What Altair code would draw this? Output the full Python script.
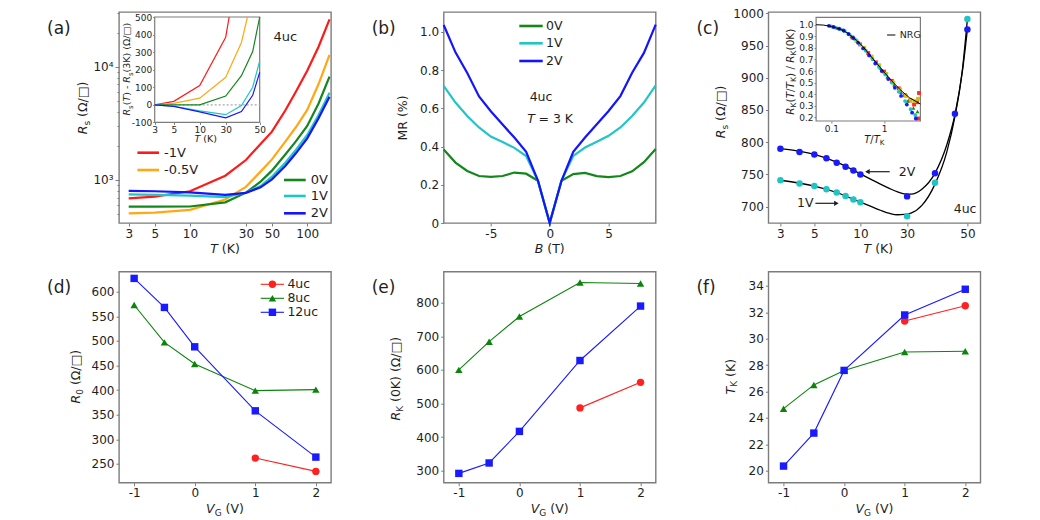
import altair as alt
import pandas as pd

FONT = "DejaVu Sans"
W, H = 212, 211
INK = "#1e1e1e"
FRAME = "#7c7c7c"
ONE = pd.DataFrame({"k": [0]})

# ---------------- (a) sheet resistance of the 4uc film ----------------
a_gates = ["-1V", "-0.5V", "0V", "1V", "2V"]
a_colors = ["#ff1a1a", "#ffa814", "#14871c", "#22c5c5", "#1414ff"]
a_T = [3, 5, 10, 20, 30, 40, 50, 65, 80, 100, 125, 155]
a_Rs_m1 = [689, 712, 795, 1090, 1500, 2080, 2670, 4100, 6010, 9200, 15000, 26200]
a_Rs_m05 = [508, 515, 544, 672, 870, 1185, 1520, 2180, 2920, 4150, 7030, 12700]
a_Rs_0 = [582, 582, 583, 635, 773, 967, 1209, 1680, 2190, 2995, 4740, 8170]
a_Rs_1 = [745, 738, 726, 705, 775, 885, 1070, 1420, 1840, 2494, 3750, 5900]
a_Rs_2 = [800, 795, 776, 738, 770, 861, 1014, 1330, 1720, 2332, 3500, 5430]

# (a) inset: Rs(T) - Rs(3K)
ai_T_m1 = [3, 5, 10, 30, 31.6]
ai_dR_m1 = [0, 20, 110, 385, 500]
ai_T_m05 = [3, 5, 10, 30, 38, 41.6]
ai_dR_m05 = [0, 8, 38, 157, 355, 500]
ai_T = [3, 5, 10, 30, 38, 45, 50]
ai_dR_0 = [0, 0, 0, 50, 166, 303, 500]
ai_dR_1 = [0, -8, -34, -56, -4, 100, 250]
ai_dR_2 = [0, -9, -40, -74, -38, 54, 185]

# ---------------- (b) magnetoresistance at 3 K ----------------
b_gates = ["0V", "1V", "2V"]
b_colors = ["#14871c", "#22c5c5", "#1414ff"]
b_B = [-9, -8, -7, -6, -5, -4, -3, -2, -1, 0, 1, 2, 3, 4, 5, 6, 7, 8, 9]
b_MR_0 = [0.385, 0.316, 0.272, 0.246, 0.241, 0.246, 0.264, 0.258, 0.221, 0.0,
          0.221, 0.256, 0.262, 0.245, 0.240, 0.246, 0.270, 0.318, 0.387]
b_MR_1 = [0.718, 0.630, 0.560, 0.500, 0.452, 0.424, 0.393, 0.350, 0.221, 0.0,
          0.222, 0.351, 0.395, 0.425, 0.456, 0.500, 0.560, 0.630, 0.720]
b_MR_2 = [1.036, 0.893, 0.785, 0.662, 0.585, 0.515, 0.447, 0.372, 0.222, 0.0,
          0.221, 0.372, 0.447, 0.517, 0.586, 0.664, 0.786, 0.890, 1.038]

# ---------------- (c) Kondo fits ----------------
c_T_2V = [3, 4, 5, 6, 7, 8, 9, 10, 30, 38, 45, 50]
c_Rs_2V = [790, 785, 781, 775, 768, 762, 756, 750, 716, 752, 844, 975]
c_T_1V = [3, 4, 5, 6, 7, 8, 9, 10, 30, 38, 50]
c_Rs_1V = [741, 736, 732, 727, 722, 716.5, 711, 707, 685, 737, 991]
c_fit_T = [3, 5, 7, 10, 13, 16, 20, 24, 28, 31, 34, 38, 42, 45, 48, 50]
c_fit_2V = [790, 781, 769, 751, 742, 735, 728, 723, 720, 719.5, 727, 752, 796, 843, 912, 975]
c_fit_1V = [741, 732, 722, 707, 700, 694.5, 689.5, 687.5, 688, 690, 702, 735, 785, 840, 915, 991]

# (c) inset: normalised Kondo resistance
nrg_x = [0.0513, 0.07, 0.1, 0.15, 0.2, 0.3, 0.4, 0.5, 0.7, 1.0, 1.5, 2.0, 3.0, 4.885]
nrg_y = [1.0, 0.997, 0.985, 0.96, 0.93, 0.865, 0.81, 0.755, 0.675, 0.59, 0.5, 0.44, 0.37, 0.315]
sc_names = ["r", "y", "g", "c", "b"]
sc_colors = ["#ff2a2a", "#d4c200", "#129012", "#20c4c4", "#1a1aff"]
sc_shapes = ["square", "square", "triangle-up", "circle", "circle"]
sc_r_x = [0.25, 0.35, 0.5, 0.7, 1.0, 1.4, 1.9, 2.5, 3.1, 3.7, 4.2, 4.6, 4.4]
sc_r_y = [0.89, 0.83, 0.755, 0.675, 0.595, 0.515, 0.45, 0.39, 0.345, 0.31, 0.33, 0.41, 0.19]
sc_y_x = [0.3, 0.42, 0.58, 0.8, 1.1, 1.5, 2.0, 2.6, 3.2, 3.8, 4.4]
sc_y_y = [0.86, 0.8, 0.725, 0.65, 0.575, 0.5, 0.44, 0.385, 0.35, 0.34, 0.36]
sc_g_x = [0.13, 0.18, 0.24, 0.33, 0.45, 0.62, 0.85, 1.15, 1.55, 2.1, 2.8, 3.6, 4.3]
sc_g_y = [0.97, 0.945, 0.9, 0.845, 0.78, 0.7, 0.625, 0.55, 0.48, 0.415, 0.34, 0.28, 0.25]
sc_c_x = [0.1, 0.12, 0.15, 0.18, 0.22, 0.28, 0.35, 0.45, 0.6, 0.8, 1.05, 1.4, 1.9, 2.5, 3.2, 3.9]
sc_c_y = [0.985, 0.975, 0.96, 0.945, 0.915, 0.875, 0.83, 0.775, 0.705, 0.635, 0.57, 0.5, 0.42, 0.34, 0.27, 0.22]
sc_b_x = [0.09, 0.11, 0.14, 0.17, 0.21, 0.26, 0.32, 0.4, 0.52, 0.68, 0.9, 1.2, 1.6, 2.1, 2.7, 3.4, 4.0]
sc_b_y = [0.99, 0.98, 0.965, 0.95, 0.92, 0.885, 0.845, 0.795, 0.735, 0.665, 0.6, 0.53, 0.455, 0.385, 0.31, 0.24, 0.19]

# ---------------- (d)-(f) gate dependence of fit parameters ----------------
films = ["4uc", "8uc", "12uc"]
film_colors = ["#ff2020", "#0c840c", "#1a1aff"]
film_shapes = ["circle", "triangle-up", "square"]
VG = [-1, -0.5, 0, 1, 2]
VG_4uc = [1, 2]
R0_12uc = [627, 568, 488, 358, 264]
R0_8uc = [573, 497, 453, 399, 401]
R0_4uc = [262, 235]
RK_12uc = [292, 323, 417, 628, 790]
RK_8uc = [600, 684, 759, 860, 857]
RK_4uc = [487, 563]
TK_12uc = [20.35, 22.85, 27.6, 31.8, 33.75]
TK_8uc = [24.7, 26.5, 27.6, 29.0, 29.05]
TK_4uc = [31.35, 32.5]


def long_frame(xname, yname, key, blocks):
    rows = []
    for name, xs, ys in blocks:
        for x, y in zip(xs, ys):
            rows.append({xname: x, yname: y, key: name})
    return pd.DataFrame(rows)


# ---------------- text helpers ----------------
EM = {" ": 0.318, "(": 0.39, ")": 0.39, "/": 0.337, "-": 0.361, "=": 0.838, "%": 0.95,
      "Ω": 0.77, "□": 0.77, "B": 0.686, "G": 0.775, "K": 0.656, "M": 0.863, "R": 0.695,
      "T": 0.611, "V": 0.684, "s": 0.521, "u": 0.634, "c": 0.55}


def tw(s, size):
    return sum(EM.get(ch, 0.636) for ch in s) * size


def rich(segs, cx, cy, size=12.5, vertical=False):
    """Centered text built from pieces: kind 'n' normal, 'i' italic, 's' subscript, 'g' gap."""
    parts = []
    for text, kind in segs:
        fs = size * 0.72 if kind == "s" else size
        parts.append((text, kind, fs, tw(text, fs)))
    total = sum(p[3] for p in parts)
    pos = -total / 2
    layers = []
    for text, kind, fs, w in parts:
        if kind != "g":
            drop = 0.36 * size + (0.22 * size if kind == "s" else 0)
            if vertical:
                x, y, ang = cx + drop, cy - pos, 270
            else:
                x, y, ang = cx + pos, cy + drop, 0
            layers.append(
                alt.Chart(ONE).mark_text(
                    text=text, font=FONT, fontSize=fs, align="left", baseline="alphabetic",
                    fontStyle="italic" if kind == "i" else "normal", angle=ang, color=INK,
                ).encode(x=alt.value(x), y=alt.value(y))
            )
        pos += w
    return layers


def label(s, x, y, size=13, align="left", baseline="middle", style="normal", color=INK):
    return alt.Chart(ONE).mark_text(
        text=s, font=FONT, fontSize=size, align=align, baseline=baseline,
        fontStyle=style, color=color,
    ).encode(x=alt.value(x), y=alt.value(y))


def seg_line(x1, x2, y, color, width=2.2):
    return alt.Chart(ONE).mark_rule(color=color, strokeWidth=width).encode(
        x=alt.value(x1), x2=alt.value(x2), y=alt.value(y))


def marker(x, y, shape, color, size):
    return alt.Chart(ONE).mark_point(
        shape=shape, filled=True, opacity=1, size=size, color=color,
    ).encode(x=alt.value(x), y=alt.value(y))


def box(sx, sy, x0, x1, y0, y1):
    return alt.Chart(ONE).mark_rect(fill="white", stroke=FRAME, strokeWidth=1.2).encode(
        x=alt.XDatum(x0, type="quantitative", scale=sx, axis=None), x2=alt.X2Datum(x1),
        y=alt.YDatum(y0, type="quantitative", scale=sy, axis=None), y2=alt.Y2Datum(y1))


def panel_tag(s):
    return label(s, -72, 16.5, size=17)


def axis(values, **kw):
    return alt.Axis(values=values, title=None, labelOverlap=False, labelFlush=False, **kw)


INSET_AX = dict(labelFontSize=9, tickSize=2, labelPadding=1)

# ================= panel (a) =================
df_a = long_frame("T", "Rs", "gate", [
    ("-1V", a_T, a_Rs_m1), ("-0.5V", a_T, a_Rs_m05), ("0V", a_T, a_Rs_0),
    ("1V", a_T, a_Rs_1), ("2V", a_T, a_Rs_2)])
df_ai = long_frame("T", "dR", "gate", [
    ("-1V", ai_T_m1, ai_dR_m1), ("-0.5V", ai_T_m05, ai_dR_m05), ("0V", ai_T, ai_dR_0),
    ("1V", ai_T, ai_dR_1), ("2V", ai_T, ai_dR_2)])
gate_color = alt.Scale(domain=a_gates, range=a_colors)

sx_a = alt.Scale(type="log", domain=[2.48, 159.6], nice=False)
sy_a = alt.Scale(type="log", domain=[417, 30400], nice=False)
a_ticks_y = [500, 600, 700, 800, 900, 1000, 2000, 3000, 4000, 5000, 6000, 7000, 8000,
             9000, 10000, 20000, 30000]
a_main = alt.Chart(df_a).mark_line(strokeWidth=2.2, clip=True).encode(
    x=alt.X("T:Q", scale=sx_a, axis=axis([3, 5, 10, 30, 50, 100], format="d")),
    y=alt.Y("Rs:Q", scale=sy_a, axis=axis(
        a_ticks_y,
        labelExpr="datum.value == 1000 ? '10³' : datum.value == 10000 ? '10⁴' : ''",
        tickSize={"condition": {"test": "datum.value == 1000 || datum.value == 10000", "value": 4},
                  "value": 2})),
    color=alt.Color("gate:N", scale=gate_color, legend=None),
)

sx_ai = alt.Scale(type="log", domain=[3, 10, 30, 50], range=[35.7, 80.7, 106.7, 140.7], nice=False)
sy_ai = alt.Scale(domain=[-100, 500], range=[110.4, 5.0], nice=False, zero=False)
ai_zero = alt.Chart(ONE).mark_rule(color="#a8a8a8", strokeDash=[2, 2], strokeWidth=1.2).encode(
    x=alt.XDatum(3, type="quantitative", scale=sx_ai, axis=None), x2=alt.X2Datum(50),
    y=alt.YDatum(0, type="quantitative", scale=sy_ai, axis=None))
ai_lines = alt.Chart(df_ai).mark_line(strokeWidth=1.2).encode(
    x=alt.X("T:Q", scale=sx_ai, axis=axis([3, 5, 10, 30, 50], orient="bottom", offset=-(H - 110.4),
                                          format="d", **INSET_AX)),
    y=alt.Y("dR:Q", scale=sy_ai, axis=axis([-100, 0, 100, 200, 300, 400, 500], orient="left",
                                           offset=-35.7, labelExpr="datum.value + ''", **INSET_AX)),
    color=alt.Color("gate:N", scale=gate_color, legend=None),
)

a_layers = [a_main, box(sx_ai, sy_ai, 3, 50, -100, 500), ai_zero, ai_lines]
a_leg_pos = [(18.4, 40, 45, 140.7), (18.4, 40, 45, 158),
             (165, 186.7, 191.7, 168), (165, 186.7, 191.7, 184), (165, 186.7, 191.7, 201.3)]
for g, c, (x1, x2, xt, y) in zip(a_gates, a_colors, a_leg_pos):
    a_layers += [seg_line(x1, x2, y, c, 2.6), label(g, xt, y)]
a_layers.append(label("4uc", 166.4, 24.7, align="center"))
a_layers += rich([("T", "i"), (" ", "g"), ("(K)", "n")], 106, 236)
a_layers += rich([("R", "i"), ("s", "s"), (" ", "g"), ("(Ω/□)", "n")], -36.6, 97, vertical=True)
a_layers += rich([("T", "i"), (" ", "g"), ("(K)", "n")], 86.7, 127, size=9.5)
a_layers += rich([("R", "i"), ("s", "s"), ("(", "n"), ("T", "i"), (")", "n"), (" ", "g"),
                  ("-", "n"), (" ", "g"), ("R", "i"), ("s", "s"), ("(3K)", "n"), (" ", "g"),
                  ("(Ω/□)", "n")], 8.0, 58, size=9.5, vertical=True)
a_layers.append(panel_tag("(a)"))
panel_a = alt.layer(*a_layers).resolve_scale(x="independent", y="independent").properties(width=W, height=H)

# ================= panel (b) =================
df_b = long_frame("B", "MR", "gate", [("0V", b_B, b_MR_0), ("1V", b_B, b_MR_1), ("2V", b_B, b_MR_2)])
b_lines = alt.Chart(df_b).mark_line(strokeWidth=2.2).encode(
    x=alt.X("B:Q", scale=alt.Scale(domain=[-9, 9], nice=False, zero=False),
            axis=axis([-5, 0, 5], labelExpr="datum.value + ''")),
    y=alt.Y("MR:Q", scale=alt.Scale(domain=[0, 1.104], nice=False),
            axis=axis([0, 0.2, 0.4, 0.6, 0.8, 1.0],
                      labelExpr="datum.value == 0 ? '0' : format(datum.value, '.1f')")),
    color=alt.Color("gate:N", scale=alt.Scale(domain=b_gates, range=b_colors), legend=None),
)
b_layers = [b_lines]
for g, c, y in zip(b_gates, b_colors, [14, 31.3, 49]):
    b_layers += [seg_line(75.6, 99, y, c, 2.6), label(g, 102.3, y, size=12.5)]
b_layers.append(label("4uc", 97.3, 84.7, size=12.5, align="center"))
b_layers += [label("T", 83.6, 107.3, size=12.5, style="italic"), label("= 3 K", 94.8, 107.3, size=12.5)]
b_layers += rich([("B", "i"), (" ", "g"), ("(T)", "n")], 106, 236)
b_layers += rich([("MR (%)", "n")], -41, 106, vertical=True)
b_layers.append(panel_tag("(b)"))
panel_b = alt.layer(*b_layers).properties(width=W, height=H)

# ================= panel (c) =================
df_c = long_frame("T", "Rs", "gate", [("1V", c_T_1V, c_Rs_1V), ("2V", c_T_2V, c_Rs_2V)])
df_cfit = long_frame("T", "Rs", "gate", [("1V", c_fit_T, c_fit_1V), ("2V", c_fit_T, c_fit_2V)])
sx_c = alt.Scale(type="log", domain=[3, 10, 30, 50], range=[12, 92, 138.7, 199], nice=False)
sy_c = alt.Scale(domain=[674.7, 1002], nice=False, zero=False)
c_fit = alt.Chart(df_cfit).mark_line(strokeWidth=1.3, color="black", interpolate="monotone").encode(
    x=alt.X("T:Q", scale=sx_c, axis=axis([3, 5, 10, 30, 50], format="d")),
    y=alt.Y("Rs:Q", scale=sy_c, axis=axis([700, 750, 800, 850, 900, 950, 1000], format="d")),
    detail="gate:N",
)
c_pts = alt.Chart(df_c).mark_circle(size=42, opacity=1).encode(
    x=alt.X("T:Q", scale=sx_c, axis=None),
    y=alt.Y("Rs:Q", scale=sy_c, axis=None),
    color=alt.Color("gate:N", scale=alt.Scale(domain=["1V", "2V"], range=["#20c4c4", "#1a1aff"]),
                    legend=None),
)

sx_ci = alt.Scale(type="log", domain=[0.0513, 4.885], range=[47.7, 152], nice=False)
sy_ci = alt.Scale(domain=[0.168, 1.064], range=[109, 5.3], nice=False, zero=False)
df_nrg = pd.DataFrame({"x": nrg_x, "y": nrg_y})
df_sc = long_frame("x", "y", "set", [
    ("r", sc_r_x, sc_r_y), ("y", sc_y_x, sc_y_y), ("g", sc_g_x, sc_g_y),
    ("c", sc_c_x, sc_c_y), ("b", sc_b_x, sc_b_y)])
ci_nrg = alt.Chart(df_nrg).mark_line(strokeWidth=1, color="black").encode(
    x=alt.X("x:Q", scale=sx_ci, axis=axis([0.1, 1], orient="bottom", offset=-(H - 109),
                                          labelExpr="datum.value < 0.5 ? '0.1' : '1'", **INSET_AX)),
    y=alt.Y("y:Q", scale=sy_ci, axis=axis([0.2, 0.3, 0.4, 0.5, 0.6, 0.7, 0.8, 0.9, 1.0],
                                          orient="left", offset=-47.7, format=".1f", **INSET_AX)),
)
ci_sc = alt.Chart(df_sc).mark_point(filled=True, opacity=1, size=15).encode(
    x=alt.X("x:Q", scale=sx_ci, axis=None),
    y=alt.Y("y:Q", scale=sy_ci, axis=None),
    color=alt.Color("set:N", scale=alt.Scale(domain=sc_names, range=sc_colors), legend=None),
    shape=alt.Shape("set:N", scale=alt.Scale(domain=sc_names, range=sc_shapes), legend=None),
)
c_layers = [c_fit, c_pts, box(sx_ci, sy_ci, 0.0513, 4.885, 0.168, 1.064), ci_sc, ci_nrg]
c_layers += [seg_line(118.7, 127, 23, "black", 1), label("NRG", 131.3, 23, size=9.5)]
c_layers += [seg_line(100, 121.3, 159.7, INK, 1.2), marker(99, 159.7, "triangle-left", INK, 28),
             label("2V", 130.3, 159.7, size=12.5)]
c_layers += [seg_line(47, 66.5, 191.3, INK, 1.2), marker(68, 191.3, "triangle-right", INK, 28),
             label("1V", 28.7, 191.3, size=12.5)]
c_layers.append(label("4uc", 185.3, 197.3, size=12.5))
c_layers += rich([("T", "i"), (" ", "g"), ("(K)", "n")], 110, 236)
c_layers += rich([("R", "i"), ("s", "s"), (" ", "g"), ("(Ω/□)", "n")], -48, 101, vertical=True)
c_layers += rich([("T", "i"), ("/", "n"), ("T", "i"), ("K", "s")], 106, 127, size=10)
c_layers += rich([("R", "i"), ("K", "s"), ("(", "n"), ("T", "i"), ("/", "n"), ("T", "i"), ("K", "s"),
                  (")", "n"), (" ", "g"), ("/", "n"), (" ", "g"), ("R", "i"), ("K", "s"),
                  ("(0K)", "n")], 22, 59.7, size=10.5, vertical=True)
c_layers.append(panel_tag("(c)"))
panel_c = alt.layer(*c_layers).resolve_scale(
    x="independent", y="independent", color="independent", shape="independent"
).properties(width=W, height=H)


# ================= panels (d)-(f) =================
def vg_panel(tag, y4, y8, y12, domain, yvals, ytitle, ycx, ycy, legend=False):
    df = long_frame("VG", "v", "film", [("4uc", VG_4uc, y4), ("8uc", VG, y8), ("12uc", VG, y12)])
    sx = alt.Scale(domain=[-1.25, 2.25], nice=False, zero=False)
    sy = alt.Scale(domain=domain, nice=False, zero=False)
    ax_x = axis([-1, 0, 1, 2], labelExpr="datum.value + ''")
    ax_y = axis(yvals, labelExpr="datum.value + ''")
    col = alt.Color("film:N", scale=alt.Scale(domain=films, range=film_colors), legend=None)
    lines = alt.Chart(df).mark_line(strokeWidth=1.1).encode(
        x=alt.X("VG:Q", scale=sx, axis=ax_x),
        y=alt.Y("v:Q", scale=sy, axis=ax_y),
        color=col, detail="film:N",
    )
    pts = alt.Chart(df).mark_point(filled=True, opacity=1, size=55).encode(
        x=alt.X("VG:Q", scale=sx, axis=ax_x), y=alt.Y("v:Q", scale=sy, axis=ax_y), color=col,
        shape=alt.Shape("film:N", scale=alt.Scale(domain=films, range=film_shapes), legend=None),
    )
    layers = [lines, pts]
    if legend:
        for f, c, s, y in zip(films, film_colors, film_shapes, [12.6, 26.6, 40.6]):
            layers += [seg_line(141.7, 165, y, c, 1.1), marker(153.4, y, s, c, 55),
                       label(f, 168.4, y, size=12.5)]
    layers += rich([("V", "i"), ("G", "s"), (" ", "g"), ("(V)", "n")], 106, 236.6)
    layers += rich(ytitle, ycx, ycy, vertical=True)
    layers.append(panel_tag(tag))
    return alt.layer(*layers).properties(width=W, height=H)


panel_d = vg_panel("(d)", R0_4uc, R0_8uc, R0_12uc, [212, 640.6],
                   [250, 300, 350, 400, 450, 500, 550, 600],
                   [("R", "i"), ("0", "s"), (" ", "g"), ("(Ω/□)", "n")], -43.3, 106, legend=True)
panel_e = vg_panel("(e)", RK_4uc, RK_8uc, RK_12uc, [264.3, 892.3],
                   [300, 400, 500, 600, 700, 800],
                   [("R", "i"), ("K", "s"), (" ", "g"), ("(0K)", "n"), (" ", "g"), ("(Ω/□)", "n")],
                   -48.3, 108)
panel_f = vg_panel("(f)", TK_4uc, TK_8uc, TK_12uc, [19.09, 35.08],
                   [20, 22, 24, 26, 28, 30, 32, 34],
                   [("T", "i"), ("K", "s"), (" ", "g"), ("(K)", "n")], -38.3, 105)

chart = alt.concat(
    panel_a, panel_b, panel_c, panel_d, panel_e, panel_f,
    columns=3, spacing={"row": 48.7, "column": 112.7}, bounds="flush",
).resolve_scale(
    color="independent", shape="independent",
).properties(
    padding={"left": 46, "top": 5, "right": 4, "bottom": 4},
    background="white",
).configure_view(
    stroke=FRAME, strokeWidth=1.4,
).configure_axis(
    domain=False, grid=False, labelFont=FONT, labelFontSize=12, labelColor=INK,
    tickColor=FRAME, tickSize=3, tickWidth=1, labelPadding=2,
)

chart.save("out.html", embed_options={"renderer": "svg", "actions": False})
